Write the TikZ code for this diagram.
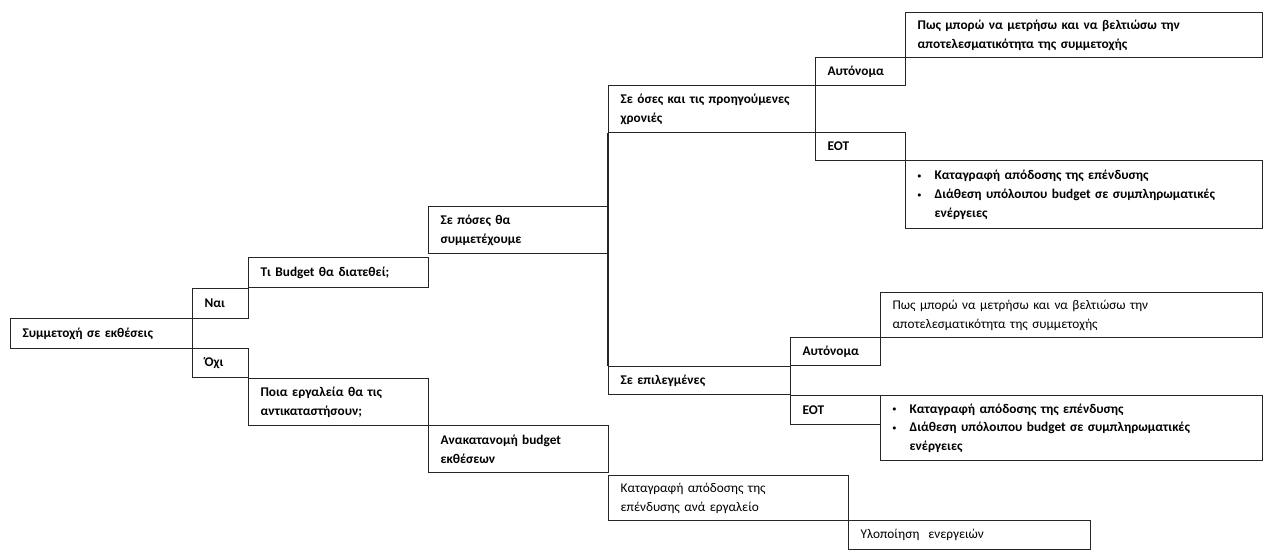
\documentclass[tikz,border=0pt]{standalone}
\usepackage{fontspec}
\setmainfont{Carlito}
\usetikzlibrary{positioning}

\newcommand{\blt}{\makebox[17pt][l]{\raisebox{0.2ex}{\scalebox{0.55}{\textbullet}}}}

\begin{document}
\begin{tikzpicture}[x=1pt, y=-1pt,
  box/.style={draw=black!85, line width=1.2pt, anchor=north west, inner xsep=12pt, inner ysep=1pt,
    align=left, font=\bfseries\fontsize{13.3}{18.7}\selectfont},
  light/.style={font=\fontsize{13.3}{18.7}\selectfont}]
\useasboundingbox (0,0) rectangle (1270,550);
% first level
\node[box, text width=158pt, minimum height=30pt] (root) at (10,318) {Συμμετοχή σε εκθέσεις};
\node[box, text width=32pt, minimum height=30pt] (nai) at (192,288) {Ναι};
\node[box, text width=32pt, minimum height=29pt] (ochi) at (192,348) {Όχι};
\node[box, text width=156pt, minimum height=30pt] (budget) at (248,257) {Τι Budget θα διατεθεί;};
\node[box, text width=156pt, minimum height=47pt] (tools) at (248,378) {Ποια εργαλεία θα τις\\αντικαταστήσουν;};
\node[box, text width=156pt, minimum height=47pt] (howmany) at (428,206) {Σε πόσες θα\\συμμετέχουμε};
\node[box, text width=156pt, minimum height=47pt] (realloc) at (428,425) {Ανακατανομή budget\\εκθέσεων};
% all exhibitions
\node[box, text width=183pt, minimum height=47pt] (previous) at (608,85) {Σε όσες και τις προηγούμενες\\χρονιές};
\node[box, text width=66pt, minimum height=28pt] (autoA) at (815,57) {Αυτόνομα};
\node[box, text width=66pt, minimum height=28pt] (eotA) at (815,132) {ΕΟΤ};
\node[box, text width=333pt, minimum height=45pt] (measureA) at (905,12) {Πως μπορώ να μετρήσω και να βελτιώσω την\\αποτελεσματικότητα της συμμετοχής};
\node[box, text width=333pt, minimum height=68pt] (actionsA) at (905,160) {\blt Καταγραφή απόδοσης της επένδυσης\\\blt Διάθεση υπόλοιπου budget σε συμπληρωματικές\\\hspace*{17pt}ενέργειες};
% selected exhibitions
\node[box, text width=158pt, minimum height=28pt] (selected) at (608,366) {Σε επιλεγμένες};
\node[box, text width=66pt, minimum height=28pt] (autoB) at (790,337) {Αυτόνομα};
\node[box, text width=66pt, minimum height=29pt] (eotB) at (790,395) {ΕΟΤ};
\node[box, light, text width=358pt, minimum height=45pt] (measureB) at (880,292) {Πως μπορώ να μετρήσω και να βελτιώσω την\\αποτελεσματικότητα της συμμετοχής};
\node[box, text width=358pt, minimum height=65pt] (actionsB) at (880,395) {\blt Καταγραφή απόδοσης της επένδυσης\\\blt Διάθεση υπόλοιπου budget σε συμπληρωματικές\\\hspace*{17pt}ενέργειες};
% tools branch
\node[box, light, text width=216pt, minimum height=45pt] (record) at (608,475) {Καταγραφή απόδοσης της\\επένδυσης ανά εργαλείο};
\node[box, light, text width=218pt, minimum height=29pt] (implement) at (848,520) {Υλοποίηση\ \ ενεργειών};

\draw[black!85, line width=1.2pt] (previous.south west) -- (selected.north west);
\end{tikzpicture}
\end{document}
